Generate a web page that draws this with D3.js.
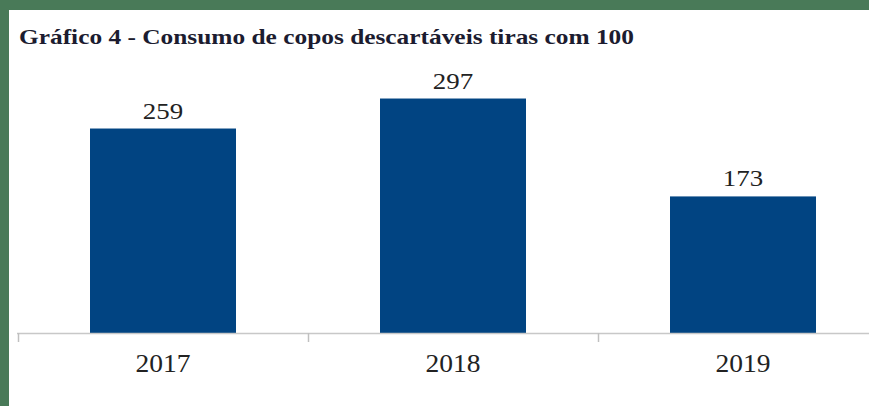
<!DOCTYPE html>
<html>
<head>
<meta charset="utf-8">
<script src="https://cdn.jsdelivr.net/npm/d3@7"></script>
<style>
    html, body { margin: 0; padding: 0; background: #497a58; }
    svg { display: block; }
</style>
</head>
<body>
<div id="chart"></div>
<script>
var years = ["2017", "2018", "2019"],
    consumo = [259, 297, 173],
    titulo = "Gráfico 4 - Consumo de copos descartáveis tiras com 100";

var width = 869,
    height = 406,
    margin = { top: 10, left: 9 },
    baseY = 333,
    serif = "Liberation Serif, Times New Roman, serif";

var svg = d3.select("#chart").append("svg")
    .attr("width", width)
    .attr("height", height);

// the source picture is a little stretched sideways
var stretch = function(sel, k) {
    sel.each(function() {
        var w = this.getComputedTextLength();
        d3.select(this).attr("textLength", w * k).attr("lengthAdjust", "spacingAndGlyphs");
    });
};

// white panel (green frame only shows on top and left)
svg.append("rect")
    .attr("x", margin.left).attr("y", margin.top)
    .attr("width", width - margin.left).attr("height", height - margin.top)
    .attr("fill", "#ffffff");

var x = d3.scaleBand().domain(years).range([18, 888]).paddingInner(0).paddingOuter(0);
var y = d3.scaleLinear().domain([0, 400]).range([baseY, baseY - 315.8]);

svg.append("text")
    .attr("x", 19).attr("y", 44)
    .attr("font-family", serif)
    .attr("font-weight", "bold")
    .attr("font-size", "21px")
    .attr("fill", "#1c1c30")
    .text(titulo)
    .call(function(s) {
        s.attr("textLength", 615).attr("lengthAdjust", "spacingAndGlyphs");
    });

var barW = 146;

svg.selectAll(".bar").data(consumo).enter().append("rect")
    .attr("class", "bar")
    .attr("x", function(d, i) { return x(years[i]) + x.bandwidth() / 2 - barW / 2; })
    .attr("y", function(d) { return y(d); })
    .attr("width", barW)
    .attr("height", function(d) { return baseY - y(d); })
    .attr("fill", "#014482");

svg.selectAll(".val").data(consumo).enter().append("text")
    .attr("class", "val")
    .attr("x", function(d, i) { return x(years[i]) + x.bandwidth() / 2; })
    .attr("y", function(d) { return y(d) - 10; })
    .attr("text-anchor", "middle")
    .attr("font-family", serif)
    .attr("font-size", "24px")
    .attr("fill", "#222")
    .text(function(d) { return d; })
    .call(stretch, 1.12);

// category axis: baseline plus ticks at band boundaries
var xAxis = d3.axisBottom(x).tickSize(0).tickPadding(21);
var gx = svg.append("g").attr("transform", "translate(0," + baseY + ")").call(xAxis);
gx.select(".domain").remove();
gx.selectAll("text")
    .attr("dy", 0)
    .attr("font-family", serif)
    .attr("font-size", "25px")
    .attr("fill", "#222")
    .call(stretch, 1.1);
gx.selectAll("text").attr("y", 39);

svg.append("line")
    .attr("x1", 17).attr("x2", width)
    .attr("y1", baseY + 0.5).attr("y2", baseY + 0.5)
    .attr("stroke", "#c8c8c8").attr("stroke-width", 1.5);

svg.selectAll(".tk").data(years).enter().append("line")
    .attr("class", "tk")
    .attr("x1", function(d) { return x(d) + 0.5; })
    .attr("x2", function(d) { return x(d) + 0.5; })
    .attr("y1", baseY).attr("y2", baseY + 9)
    .attr("stroke", "#c0c0c0").attr("stroke-width", 1.5);
</script>
</body>
</html>
